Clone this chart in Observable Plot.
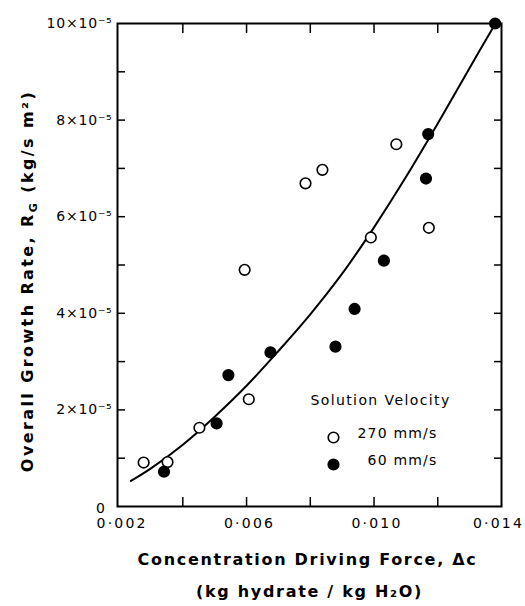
<!DOCTYPE html>
<html><head><meta charset="utf-8">
<script src="https://cdn.jsdelivr.net/npm/d3@7"></script>
<script src="https://cdn.jsdelivr.net/npm/@observablehq/plot@0.6"></script>
<style>body{margin:0;background:#fff}</style>
</head><body><div id="chart"></div>
<script>
// Solution velocity 270 mm/s (open circles)
const x270 = [0.00277, 0.00352, 0.00452, 0.00594, 0.00607, 0.00785, 0.00838, 0.00990, 0.01070, 0.01172];
const y270 = [0.91, 0.92, 1.63, 4.90, 2.22, 6.69, 6.97, 5.57, 7.50, 5.77]; // ×10⁻⁵
// Solution velocity 60 mm/s (filled circles)
const x60 = [0.00341, 0.00506, 0.00543, 0.00675, 0.00879, 0.00939, 0.01031, 0.01163, 0.01170, 0.01380];
const y60 = [0.72, 1.72, 2.72, 3.19, 3.31, 4.09, 5.09, 6.79, 7.71, 10.0];
// fitted curve
const xCurve = [0.00237, 0.003, 0.004, 0.005, 0.006, 0.007, 0.008, 0.009, 0.010, 0.011, 0.012, 0.013, 0.01381];
const yCurve = [0.53, 0.79, 1.28, 1.86, 2.50, 3.22, 3.98, 4.82, 5.78, 6.82, 7.93, 9.08, 10.0];
// ticks
const xMinorTicks = [0.004, 0.006, 0.008, 0.010, 0.012];
const xLabelTicks = [0.002, 0.006, 0.010, 0.014];
const xTickLabels = ["0·002", "0·006", "0·010", "0·014"];
const yMinorTicks = [1, 2, 3, 4, 5, 6, 7, 8, 9];
const yLabelTicks = [2, 4, 6, 8, 10];
const yTickLabels = ["2×10⁻⁵", "4×10⁻⁵", "6×10⁻⁵", "8×10⁻⁵", "10×10⁻⁵"];
const series = ["270 mm/s", "60 mm/s"];
const legendTitle = "Solution Velocity";
const xTitle = ["Concentration Driving Force, Δc", "(kg hydrate / kg H₂O)"];
const yTitle = "Overall Growth Rate, R_G (kg/s m²)";

const pts = [
  ...x270.map((x, i) => ({x, y: y270[i], s: series[0]})),
  ...x60.map((x, i) => ({x, y: y60[i], s: series[1]}))
];
const curve = xCurve.map((x, i) => ({x, y: yCurve[i]}));
const FONT = "DejaVu Sans";
const isFilled = s => s === series[1];
const xLab = d => xTickLabels[xLabelTicks.indexOf(d)];

const chart = Plot.plot({
  width: 525, height: 606,
  marginLeft: 117, marginRight: 24, marginTop: 23, marginBottom: 100,
  style: {fontFamily: FONT, background: "white", color: "black", overflow: "visible"},
  x: {domain: [0.00195, 0.014]},
  y: {domain: [0, 10]},
  marks: [
    Plot.axisX(xMinorTicks, {anchor: "bottom", tickSize: -9, tickFormat: () => "", label: null, strokeWidth: 1.5}),
    Plot.axisX(xMinorTicks, {anchor: "top", tickSize: -9, tickFormat: () => "", label: null, strokeWidth: 1.5}),
    Plot.axisY(yMinorTicks, {anchor: "left", tickSize: -8, tickFormat: () => "", label: null, strokeWidth: 1.5}),
    Plot.axisY(yMinorTicks, {anchor: "right", tickSize: -8, tickFormat: () => "", label: null, strokeWidth: 1.5}),
    Plot.axisX(xLabelTicks.slice(0, 3), {anchor: "bottom", tickSize: 0, tickPadding: 12, dx: 3, fontSize: 14,
      tickFormat: xLab, label: null}),
    Plot.axisX(xLabelTicks.slice(3), {anchor: "bottom", tickSize: 0, tickPadding: 12, dx: -3, fontSize: 14,
      tickFormat: xLab, label: null}),
    Plot.axisY(yLabelTicks, {anchor: "left", tickSize: 0, tickPadding: 5, fontSize: 14,
      tickFormat: d => yTickLabels[yLabelTicks.indexOf(d)], label: null}),
    Plot.text(["0"], {x: 0.00195, y: 0, dx: -17, dy: 2, fontSize: 14}),
    Plot.frame({strokeWidth: 2}),
    Plot.line(curve, {x: "x", y: "y", curve: "catmull-rom", strokeWidth: 2}),
    Plot.dot(pts, {x: "x", y: "y", r: 5.3,
      fill: d => isFilled(d.s) ? "black" : "white",
      stroke: "black", strokeWidth: 1.6}),
    // legend
    Plot.text([legendTitle], {frameAnchor: "bottom-right", dx: -121, dy: -102, fontSize: 14, textAnchor: "middle"}),
    Plot.dot([series[0]], {frameAnchor: "bottom-right", dx: -168, dy: -69, r: 5.3, fill: "white", stroke: "black", strokeWidth: 1.6}),
    Plot.dot([series[1]], {frameAnchor: "bottom-right", dx: -168, dy: -42, r: 5.3, fill: "black", stroke: "black", strokeWidth: 1.6}),
    Plot.text([series[0]], {frameAnchor: "bottom-right", dx: -64, dy: -69, fontSize: 14, textAnchor: "end"}),
    Plot.text([series[1]], {frameAnchor: "bottom-right", dx: -64, dy: -42, fontSize: 14, textAnchor: "end"}),
    // axis titles
    Plot.text([xTitle[0]], {frameAnchor: "bottom", dy: 58, dx: -2, fontSize: 16, fontWeight: "bold"}),
    Plot.text([xTitle[1]], {frameAnchor: "bottom", dy: 90, fontSize: 16, fontWeight: "bold"}),
    Plot.text([yTitle], {frameAnchor: "left", dx: -90, dy: 16, rotate: -90, textAnchor: "middle", fontSize: 16, fontWeight: "bold"})
  ]
});
document.getElementById("chart").appendChild(chart);

// typographic touches: letter spacing and the subscript G
const svg = d3.select(chart);
svg.selectAll("text").each(function () {
  const t = this.textContent;
  const s = d3.select(this);
  if (xTickLabels.includes(t)) s.attr("letter-spacing", 2.2);
  if (yTickLabels.includes(t)) s.attr("letter-spacing", 0.8);
  if (t === legendTitle) s.attr("letter-spacing", 1.4);
  if (series.includes(t)) s.attr("letter-spacing", 1.2);
  if (xTitle.includes(t)) s.attr("letter-spacing", 1.7);
  if (t === yTitle) {
    s.attr("letter-spacing", 2.4).text(null);
    const [a, b] = yTitle.split("R_G");
    s.append("tspan").text(a + "R");
    s.append("tspan").attr("font-size", 11).attr("dy", 4).text("G");
    s.append("tspan").attr("dy", -4).text(b);
  }
});
</script>
</body></html>
